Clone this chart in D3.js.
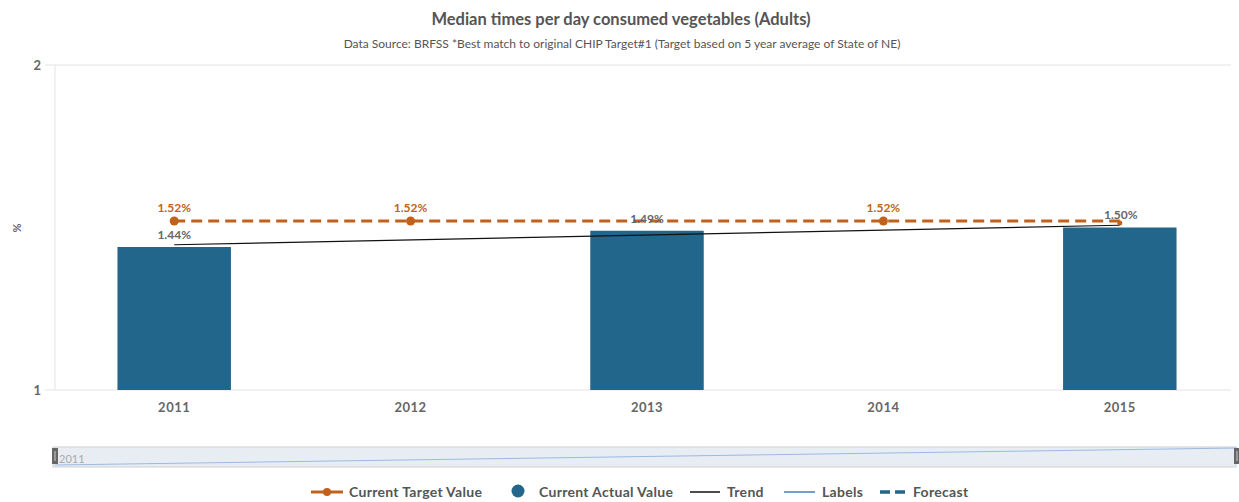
<!DOCTYPE html>
<html>
<head>
<meta charset="utf-8">
<script src="https://cdn.jsdelivr.net/npm/d3@7"></script>
<style>
  body { margin: 0; background: #fff; }
  text { font-family: "Lato", "Open Sans", sans-serif; }
</style>
</head>
<body>
<svg id="chart" width="1239" height="502"></svg>
<script>
// chart data
const years = ["2011", "2012", "2013", "2014", "2015"];
const actualValues = [1.44, null, 1.49, null, 1.50];
const targetValues = [1.52, 1.52, 1.52, 1.52, 1.52];
const targetLabelShown = [true, true, false, true, false];
const trendEnds = [1.447, 1.507]; // 2011 -> 2015
const yTicks = [1, 2];

const svg = d3.select("#chart");
const margin = {left: 55, right: 2, top: 65, bottom: 112};
const width = +svg.attr("width");
const height = +svg.attr("height");

const x = d3.scaleBand().domain(years).range([margin.left + 1, width - margin.right + 1]).paddingInner(0.52).paddingOuter(0.26);
const xc = d => x(d) + x.bandwidth() / 2;
const y = d3.scaleLinear().domain([1, 2]).range([height - margin.bottom, margin.top]);

const grey = "#666";
const orange = "#c0621e";
const blue = "#22668b";

// title
svg.append("text").attr("x", 621).attr("y", 25).attr("text-anchor", "middle")
    .style("font-size", "16.5px").style("font-weight", "bold").attr("fill", "#555")
    .text("Median times per day consumed vegetables (Adults)");
svg.append("text").attr("x", 622).attr("y", 48).attr("text-anchor", "middle")
    .style("font-size", "12px").attr("fill", "#555")
    .text("Data Source: BRFSS *Best match to original CHIP Target#1 (Target based on 5 year average of State of NE)");

// grid + axes
svg.append("g").selectAll("line").data(yTicks).enter().append("line")
    .attr("x1", 45).attr("x2", width - 8)
    .attr("y1", d => y(d)).attr("y2", d => y(d))
    .attr("stroke", "#e3e3e3");
svg.append("line").attr("x1", margin.left).attr("x2", margin.left)
    .attr("y1", y(2)).attr("y2", y(1)).attr("stroke", "#e3e3e3");
svg.append("g").selectAll("text").data(yTicks).enter().append("text")
    .attr("x", 41).attr("y", d => y(d) + 5).attr("text-anchor", "end")
    .style("font-size", "13px").style("font-weight", "bold").attr("fill", grey)
    .text(d => d);
svg.append("text").attr("transform", "translate(21,228) rotate(-90)")
    .attr("text-anchor", "middle").style("font-size", "11px").style("font-weight", "bold")
    .attr("fill", grey).text("%");

svg.append("g").selectAll("text").data(years).enter().append("text")
    .attr("x", d => xc(d)).attr("y", 412).attr("text-anchor", "middle")
    .style("font-size", "13px").style("font-weight", "bold").style("letter-spacing", "0.5px")
    .attr("fill", grey).text(d => d);

// bars
const actual = years.map((yr, i) => ({yr, v: actualValues[i]})).filter(d => d.v != null);
svg.append("g").selectAll("rect").data(actual).enter().append("rect")
    .attr("x", d => x(d.yr)).attr("width", x.bandwidth())
    .attr("y", d => y(d.v)).attr("height", d => y(1) - y(d.v))
    .attr("fill", blue);

// trend
svg.append("line")
    .attr("x1", xc(years[0])).attr("y1", y(trendEnds[0]))
    .attr("x2", xc(years[4])).attr("y2", y(trendEnds[1]))
    .attr("stroke", "#111").attr("stroke-width", 1.2);

// target line
const target = years.map((yr, i) => ({yr, v: targetValues[i], show: targetLabelShown[i]}));
svg.append("path").datum(target)
    .attr("d", d3.line().x(d => xc(d.yr)).y(d => y(d.v)))
    .attr("fill", "none").attr("stroke", orange).attr("stroke-width", 3)
    .attr("stroke-dasharray", "11,6");
svg.append("g").selectAll("circle").data(target.filter(d => d.show)).enter().append("circle")
    .attr("cx", d => xc(d.yr)).attr("cy", d => y(d.v)).attr("r", 4.5).attr("fill", orange);
svg.append("circle").attr("cx", xc(years[4])).attr("cy", y(targetValues[4]) + 2).attr("r", 2.5).attr("fill", orange);
svg.append("g").selectAll("text").data(target.filter(d => d.show)).enter().append("text")
    .attr("x", d => xc(d.yr)).attr("y", d => y(d.v) - 9).attr("text-anchor", "middle")
    .style("font-size", "12px").style("font-weight", "bold").attr("fill", orange)
    .text(d => d.v.toFixed(2) + "%");

// actual labels
const labelOffsets = [-8, 0, -8, 0, -9];
svg.append("g").selectAll("text").data(actual).enter().append("text")
    .attr("x", d => xc(d.yr) + (d.yr === "2015" ? 1 : 0))
    .attr("y", d => y(d.v) + labelOffsets[years.indexOf(d.yr)])
    .attr("text-anchor", "middle")
    .style("font-size", "12px").style("font-weight", "bold").attr("fill", "#666")
    .text(d => d.v.toFixed(2) + "%");

// navigator
const nav = svg.append("g");
nav.append("rect").attr("x", 53).attr("y", 447).attr("width", 1183).attr("height", 20)
    .attr("fill", "#e8edf4").attr("stroke", "#cfcfcf");
nav.append("line").attr("x1", 55).attr("y1", 465).attr("x2", 1237).attr("y2", 448)
    .attr("stroke", "#9bb9e0").attr("stroke-width", 1);
[52, 1234].forEach(hx => {
  nav.append("rect").attr("x", hx).attr("y", 448).attr("width", 6).attr("height", 16)
      .attr("fill", "#666");
  nav.append("line").attr("x1", hx + 3).attr("x2", hx + 3).attr("y1", 451).attr("y2", 461)
      .attr("stroke", "#ccc");
});
nav.append("text").attr("x", 59).attr("y", 463).style("font-size", "11px").attr("fill", "#aaa").text("2011");

// legend
const lg = svg.append("g").style("font-size", "14px").style("font-weight", "bold").style("letter-spacing", "0.3px");
const legendText = (tx, t) => lg.append("text").attr("x", tx).attr("y", 497).attr("fill", "#555").text(t);
lg.append("line").attr("x1", 311).attr("x2", 343).attr("y1", 492).attr("y2", 492).attr("stroke", orange).attr("stroke-width", 3);
lg.append("circle").attr("cx", 327).attr("cy", 492).attr("r", 4).attr("fill", orange);
legendText(349, "Current Target Value");
lg.append("circle").attr("cx", 518).attr("cy", 491).attr("r", 6.5).attr("fill", blue);
legendText(539, "Current Actual Value");
lg.append("line").attr("x1", 690).attr("x2", 720).attr("y1", 492).attr("y2", 492).attr("stroke", "#111").attr("stroke-width", 1.5);
legendText(727, "Trend");
lg.append("line").attr("x1", 784).attr("x2", 815).attr("y1", 492).attr("y2", 492).attr("stroke", "#4a7bbf").attr("stroke-width", 1.5);
legendText(822, "Labels");
lg.append("line").attr("x1", 880).attr("x2", 907).attr("y1", 492).attr("y2", 492).attr("stroke", blue).attr("stroke-width", 3.5).attr("stroke-dasharray", "10,5");
legendText(913, "Forecast");
</script>
</body>
</html>
